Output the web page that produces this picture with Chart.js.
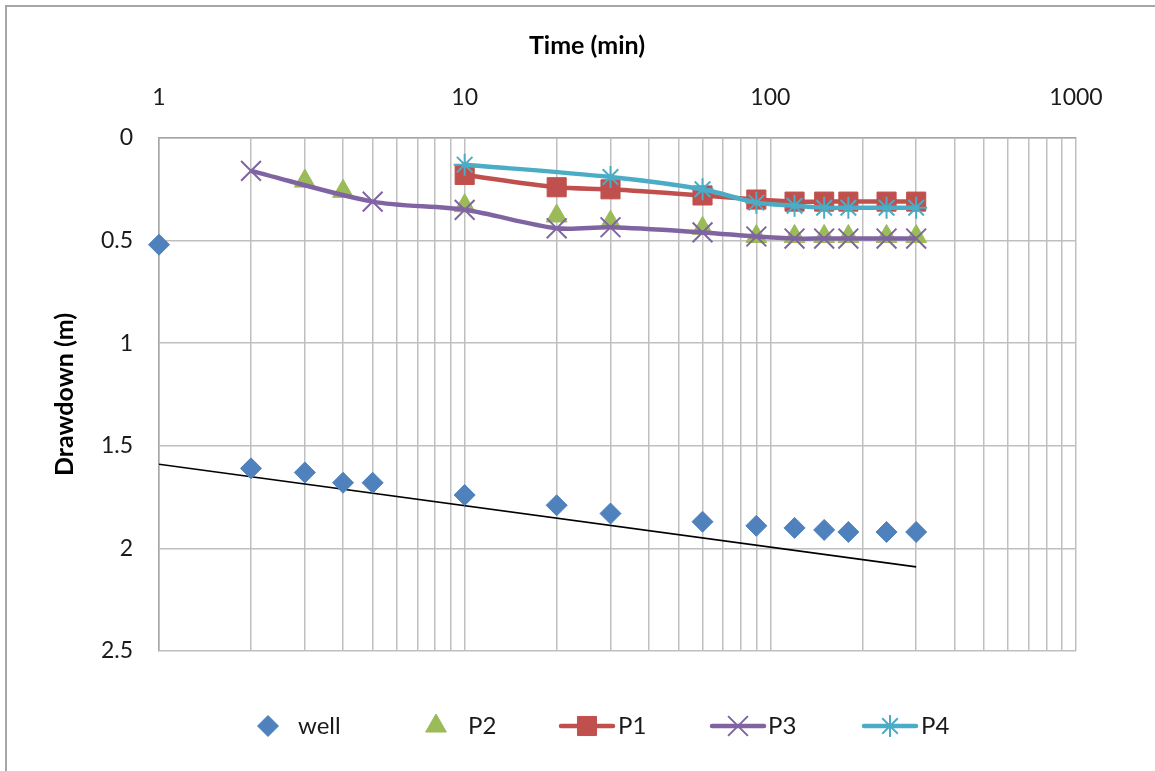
<!DOCTYPE html>
<html>
<head>
<meta charset="utf-8">
<script src="https://cdn.jsdelivr.net/npm/chart.js@4.4.1/dist/chart.umd.min.js"></script>
<style>
  html, body { margin: 0; padding: 0; background: #fff; }
  #wrap { width: 1155px; height: 771px; }
</style>
</head>
<body>
<div id="wrap"><canvas id="chart" width="1155" height="771"></canvas></div>
<script>
// time (min) and drawdown (m)
var timeWell = [1, 2, 3, 4, 5, 10, 20, 30, 60, 90, 120, 150, 180, 240, 300];
var wellDrawdown = [0.52, 1.61, 1.63, 1.68, 1.68, 1.74, 1.79, 1.83, 1.87, 1.89, 1.90, 1.91, 1.92, 1.92, 1.92];

var timeP2 = [3, 4, 10, 20, 30, 60, 90, 120, 150, 180, 240, 300];
var p2Drawdown = [0.21, 0.26, 0.33, 0.38, 0.41, 0.44, 0.48, 0.48, 0.48, 0.48, 0.48, 0.48];

var timeP1 = [10, 20, 30, 60, 90, 120, 150, 180, 240, 300];
var p1Drawdown = [0.18, 0.24, 0.25, 0.28, 0.30, 0.31, 0.31, 0.31, 0.31, 0.31];

var timeP3 = [2, 5, 10, 20, 30, 60, 90, 120, 150, 180, 240, 300];
var p3Drawdown = [0.16, 0.31, 0.35, 0.44, 0.435, 0.46, 0.48, 0.49, 0.49, 0.49, 0.49, 0.49];

var timeP4 = [10, 30, 60, 90, 120, 150, 180, 240, 300];
var p4Drawdown = [0.13, 0.19, 0.25, 0.315, 0.33, 0.34, 0.34, 0.34, 0.34];

// trend line on the well data (end points)
var trendTime = [1, 300];
var trendDrawdown = [1.59, 2.09];

var xLabelTicks = [1, 10, 100, 1000];
var yTicks = [0, 0.5, 1, 1.5, 2, 2.5];

function pts(xs, ys) {
  var out = [];
  for (var i = 0; i < xs.length; i++) out.push({x: xs[i], y: ys[i]});
  return out;
}

var FONT = "Lato, 'Liberation Sans', sans-serif";

// every 1..9 x 10^k as a grid line
function logGridValues() {
  var v = [];
  for (var d = 1; d < 1000; d *= 10) {
    for (var m = 1; m < 10; m++) v.push(m * d);
  }
  v.push(1000);
  return v;
}

var frame = {
  id: 'frame',
  beforeDraw: function(c) {
    var ctx = c.ctx;
    ctx.save();
    ctx.fillStyle = '#fff';
    ctx.fillRect(0, 0, c.width, c.height);
    ctx.strokeStyle = '#a6a6a6';
    ctx.lineWidth = 2;
    ctx.strokeRect(6, 6, 1300, 900);
    ctx.restore();
  },
  afterDraw: function(c) {
    var ctx = c.ctx;
    ctx.save();
    ctx.fillStyle = '#000';
    ctx.font = 'bold 25px ' + FONT;
    ctx.textAlign = 'center';
    ctx.textBaseline = 'middle';
    ctx.fillText('Time (min)', 587, 46);

    // legend
    var items = [
      {ds: 0, cx: 268, tx: 298},
      {ds: 1, cx: 436, tx: 468},
      {ds: 2, cx: 587, tx: 618},
      {ds: 3, cx: 738, tx: 768},
      {ds: 4, cx: 890, tx: 921}
    ];
    var ly = 726;
    items.forEach(function(it) {
      var d = c.data.datasets[it.ds];
      if (d.showLine) {
        ctx.strokeStyle = d.borderColor;
        ctx.lineWidth = d.borderWidth;
        ctx.lineCap = 'round';
        ctx.beginPath();
        ctx.moveTo(it.cx - 26, ly);
        ctx.lineTo(it.cx + 26, ly);
        ctx.stroke();
      }
      ctx.fillStyle = d.pointBackgroundColor;
      ctx.strokeStyle = d.pointBorderColor;
      ctx.lineWidth = d.pointBorderWidth;
      ctx.lineCap = 'butt';
      Chart.helpers.drawPoint(ctx, {
        pointStyle: d.pointStyle,
        radius: d.pointRadius,
        borderWidth: d.pointBorderWidth,
        rotation: 0
      }, it.cx, ly);
      ctx.fillStyle = '#1a1a1a';
      ctx.font = '24px ' + FONT;
      ctx.textAlign = 'left';
      ctx.textBaseline = 'middle';
      ctx.fillText(d.label, it.tx, ly);
    });
    ctx.restore();
  }
};

var chart = new Chart(document.getElementById('chart'), {
  type: 'scatter',
  data: {
    datasets: [
      {
        label: 'well',
        data: pts(timeWell, wellDrawdown),
        showLine: false,
        clip: false,
        pointStyle: 'rectRot',
        pointRadius: 10.5,
        pointBorderWidth: 1,
        pointBackgroundColor: '#4f81bd',
        pointBorderColor: '#4f81bd',
        order: 5
      },
      {
        label: 'P2',
        data: pts(timeP2, p2Drawdown),
        showLine: false,
        clip: false,
        pointStyle: 'triangle',
        pointRadius: 12,
        pointBorderWidth: 1,
        pointBackgroundColor: '#9bbb59',
        pointBorderColor: '#9bbb59',
        order: 4
      },
      {
        label: 'P1',
        data: pts(timeP1, p1Drawdown),
        showLine: true,
        clip: false,
        borderColor: '#c0504d',
        borderWidth: 4.5,
        tension: 0.3,
        pointStyle: 'rect',
        pointRadius: 13.5,
        pointBorderWidth: 1,
        pointBackgroundColor: '#c0504d',
        pointBorderColor: '#c0504d',
        order: 3
      },
      {
        label: 'P3',
        data: pts(timeP3, p3Drawdown),
        showLine: true,
        clip: false,
        borderColor: '#8064a2',
        borderWidth: 4.5,
        tension: 0.3,
        pointStyle: 'crossRot',
        pointRadius: 14,
        pointBorderWidth: 2,
        pointBackgroundColor: '#8064a2',
        pointBorderColor: '#8064a2',
        order: 2
      },
      {
        label: 'P4',
        data: pts(timeP4, p4Drawdown),
        showLine: true,
        clip: false,
        borderColor: '#4bacc6',
        borderWidth: 4.5,
        tension: 0.3,
        pointStyle: 'star',
        pointRadius: 11,
        pointBorderWidth: 2,
        pointBackgroundColor: '#4bacc6',
        pointBorderColor: '#4bacc6',
        order: 1
      },
      {
        label: 'trend',
        data: pts(trendTime, trendDrawdown),
        showLine: true,
        borderColor: '#000',
        borderWidth: 1.6,
        pointRadius: 0,
        order: 6
      }
    ]
  },
  options: {
    responsive: false,
    animation: false,
    layout: { padding: { top: 20, left: 40, right: 79, bottom: 120 } },
    plugins: {
      legend: { display: false },
      tooltip: { enabled: false }
    },
    scales: {
      x: {
        type: 'logarithmic',
        position: 'top',
        min: 1,
        max: 1000,
        afterFit: function(s) { s.height = 118; },
        afterBuildTicks: function(s) {
          s.ticks = logGridValues().map(function(v) { return {value: v}; });
        },
        ticks: {
          autoSkip: false,
          maxRotation: 0,
          padding: 27,
          color: '#1a1a1a',
          font: { family: FONT, size: 23 },
          callback: function(v) {
            return xLabelTicks.indexOf(v) >= 0 ? String(v) : '';
          }
        },
        grid: { color: '#bfbfbf', lineWidth: 1.5, drawTicks: false },
        border: { color: '#a6a6a6', width: 1.5 }
      },
      y: {
        type: 'linear',
        reverse: true,
        min: 0,
        max: 2.5,
        afterFit: function(s) { s.width = 119; },
        afterBuildTicks: function(s) {
          s.ticks = yTicks.map(function(v) { return {value: v}; });
        },
        title: {
          display: true,
          text: 'Drawdown (m)',
          color: '#000',
          font: { family: FONT, size: 25, weight: 'bold' },
          padding: { top: 10, bottom: 0 }
        },
        ticks: {
          padding: 26,
          color: '#1a1a1a',
          font: { family: FONT, size: 23 },
          callback: function(v) { return String(v); }
        },
        grid: { color: '#bfbfbf', lineWidth: 1.5, drawTicks: false },
        border: { color: '#a6a6a6', width: 1.5 }
      }
    }
  },
  plugins: [frame]
});
</script>
</body>
</html>
